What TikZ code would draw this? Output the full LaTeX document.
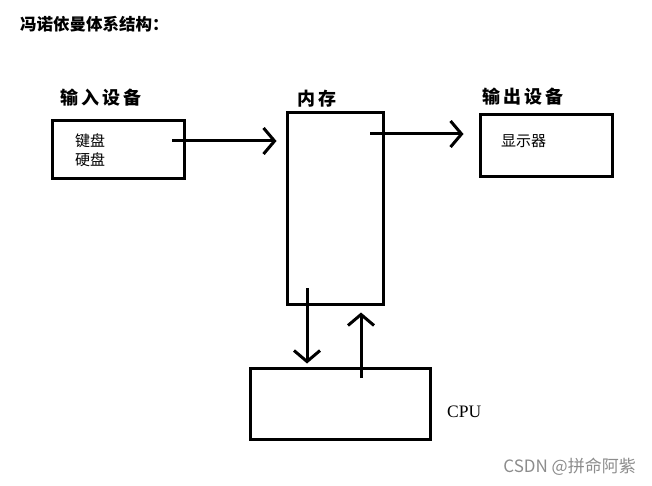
\documentclass[tikz,border=0pt]{standalone}
\usepackage{fontspec}
\setmainfont{Liberation Serif}
\newfontfamily\cjk{Noto Sans CJK SC}
\newfontfamily\cjkwide[LetterSpace=18]{Noto Sans CJK SC}
\usetikzlibrary{arrows.meta}

\begin{document}
\begin{tikzpicture}[
    x=1pt, y=-1pt,
    box/.style={draw, line width=3pt, inner sep=0pt},
    arr/.style={line width=3pt, -{Straight Barb[length=11pt,width=26pt,line width=3pt]}},
    lbl/.style={font=\cjkwide\bfseries\fontsize{18}{18}\selectfont, anchor=west, inner sep=0pt},
    item/.style={font=\cjk\fontsize{15}{15}\selectfont, anchor=west, inner sep=0pt}
  ]
  \useasboundingbox (0,0) rectangle (652,486);

  % title
  \node[font=\cjk\bfseries\fontsize{16.5}{16.5}\selectfont, anchor=west, inner sep=0pt] (title) at (20,24) {冯诺依曼体系结构：};

  % input devices
  \node[lbl] (inlbl) at (60,98) {输入设备};
  \node[box, minimum width=132pt, minimum height=58pt] (in) at (118.5,149.5) {};
  \node[item] (kb) at (75,141) {键盘};
  \node[item] (hd) at (75,160) {硬盘};

  % memory
  \node[lbl] (memlbl) at (297,99) {内存};
  \node[box, minimum width=96pt, minimum height=191pt] (mem) at (335,208.5) {};

  % output devices
  \node[lbl] (outlbl) at (482,97) {输出设备};
  \node[box, minimum width=132pt, minimum height=62pt] (out) at (546,146) {};
  \node[item] (disp) at (501,141) {显示器};

  % CPU
  \node[box, minimum width=180pt, minimum height=71pt] (cpu) at (340,403.5) {};
  \node[font=\fontsize{17.5}{17.5}\selectfont, anchor=west, inner sep=0pt] (cpulbl) at (447,412) {CPU};

  % arrows
  \coordinate (s1) at (172,141);
  \coordinate (s2) at (370,134);
  \coordinate (s3) at (307,288);
  \coordinate (s4) at (361,378);
  \draw[arr, shorten >=9pt] (s1) -- (s1 -| mem.west);
  \draw[arr, shorten >=15pt] (s2) -- (s2 -| out.west);
  \draw[arr, shorten >=3pt] (s3) -- (s3 |- cpu.north);
  \draw[arr, shorten >=7pt] (s4) -- (s4 |- mem.south);

  % watermark
  \node[font=\cjk\fontsize{17}{17}\selectfont, text=black!45, anchor=east, inner sep=0pt] (wm) at (636,467) {CSDN @拼命阿紫};
\end{tikzpicture}
\end{document}
